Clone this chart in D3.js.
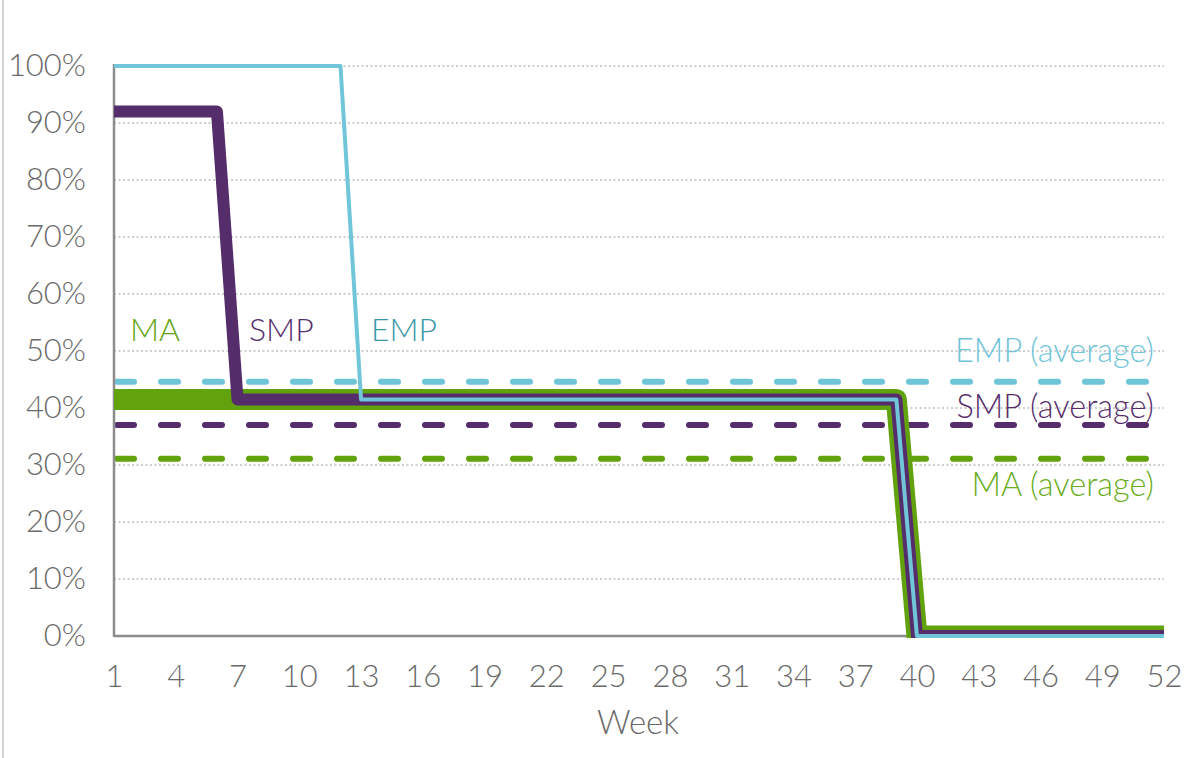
<!DOCTYPE html>
<html>
<head>
<meta charset="utf-8">
<script src="https://cdn.jsdelivr.net/npm/d3@7/dist/d3.min.js"></script>
<style>
  html, body { margin: 0; padding: 0; background: #fff; }
  svg { display: block; }
  text { font-family: Lato, "Noto Sans", sans-serif; font-weight: 300; }
</style>
</head>
<body>
<svg id="chart" width="1184" height="758"></svg>
<script>
// Weekly pay as a share of normal earnings, by leave type (step points: week, percent)
const xTicks = [1, 4, 7, 10, 13, 16, 19, 22, 25, 28, 31, 34, 37, 40, 43, 46, 49, 52];
const yTicks = [0, 10, 20, 30, 40, 50, 60, 70, 80, 90, 100];

const maPoints  = [[1, 41.5], [39, 41.5], [40, 0], [52, 0]];
const smpPoints = [[1, 92], [6, 92], [7, 41.5], [39, 41.5], [40, 0], [52, 0]];
const empPoints = [[1, 100], [12, 100], [13, 41.5], [39, 41.5], [40, 0], [52, 0]];

// Average over the 52 weeks
const averages = [
  { name: "EMP (average)", value: 44.6, color: "#6fc5d8" },
  { name: "SMP (average)", value: 37.0, color: "#552d6b" },
  { name: "MA (average)",  value: 31.1, color: "#62a30d" }
];

const colors = { MA: "#62a30d", SMP: "#552d6b", EMP: "#70c6d8", EMPlabel: "#3a97a8" };

const svg = d3.select("#chart");
const plotLeft = 114, plotRight = 1164, plotTop = 66, plotBottom = 636;

const x = d3.scaleLinear().domain([1, 52]).range([plotLeft, plotRight]);
const y = d3.scaleLinear().domain([0, 100]).range([plotBottom, plotTop]);

// thin frame line on the far left
svg.append("line")
  .attr("x1", 3).attr("x2", 3).attr("y1", 0).attr("y2", 758)
  .attr("stroke", "#d4d4d4").attr("stroke-width", 2);

// dotted gridlines
svg.append("g")
  .selectAll("line")
  .data(yTicks.filter(d => d > 0))
  .join("line")
  .attr("x1", plotLeft).attr("x2", plotRight)
  .attr("y1", d => y(d)).attr("y2", d => y(d))
  .attr("stroke", "#cdcdcd")
  .attr("stroke-width", 2)
  .attr("stroke-dasharray", "2,2.5");

// y axis labels
const yAxis = d3.axisLeft(y).tickValues(yTicks).tickFormat(d => d + "%").tickSize(0).tickPadding(0);
const gy = svg.append("g").attr("transform", `translate(86,0)`).call(yAxis);
gy.select(".domain").remove();
gy.selectAll("text")
  .attr("font-size", 31).attr("fill", "#6a6a6a")
  .style("font-family", "Lato, 'Noto Sans', sans-serif").style("font-weight", 300);

// x axis labels
const xAxis = d3.axisBottom(x).tickValues(xTicks).tickFormat(d3.format("d")).tickSize(0).tickPadding(0);
const gx = svg.append("g").attr("transform", `translate(0,665)`).call(xAxis);
gx.select(".domain").remove();
gx.selectAll("text")
  .attr("font-size", 31).attr("fill", "#6a6a6a")
  .style("font-family", "Lato, 'Noto Sans', sans-serif").style("font-weight", 300);

svg.append("text")
  .attr("x", 638).attr("y", 734)
  .attr("text-anchor", "middle")
  .attr("font-size", 33).attr("fill", "#6a6a6a")
  .text("Week");

// average dashed lines
svg.append("g")
  .selectAll("line")
  .data(averages)
  .join("line")
  .attr("x1", plotLeft + 3).attr("x2", plotRight)
  .attr("y1", d => y(d.value)).attr("y2", d => y(d.value))
  .attr("stroke", d => d.color)
  .attr("stroke-width", 6)
  .attr("stroke-linecap", "round")
  .attr("stroke-dasharray", "17,27");

// axis lines
svg.append("line")
  .attr("x1", plotLeft).attr("x2", plotLeft).attr("y1", plotTop - 2).attr("y2", plotBottom + 1)
  .attr("stroke", "#8c8c8c").attr("stroke-width", 2.5);
svg.append("line")
  .attr("x1", plotLeft).attr("x2", plotRight).attr("y1", plotBottom).attr("y2", plotBottom)
  .attr("stroke", "#8c8c8c").attr("stroke-width", 2.5);

// step lines, clipped just below the zero line
svg.append("clipPath").attr("id", "plot-clip")
  .append("rect").attr("x", plotLeft).attr("y", 0)
  .attr("width", plotRight - plotLeft).attr("height", plotBottom + 2);

const line = d3.line().x(d => x(d[0])).y(d => y(d[1]));
const series = [
  { pts: maPoints,  color: colors.MA,  width: 21 },
  { pts: smpPoints, color: colors.SMP, width: 12 },
  { pts: empPoints, color: colors.EMP, width: 4 }
];
svg.append("g").attr("clip-path", "url(#plot-clip)")
  .selectAll("path")
  .data(series)
  .join("path")
  .attr("d", d => line(d.pts))
  .attr("fill", "none")
  .attr("stroke", d => d.color)
  .attr("stroke-width", d => d.width)
  .attr("stroke-linejoin", "round")
  .attr("stroke-linecap", "butt");

// series labels
const seriesLabels = [
  { text: "MA",  x: 130, color: colors.MA },
  { text: "SMP", x: 249, color: colors.SMP },
  { text: "EMP", x: 371, color: colors.EMPlabel }
];
svg.append("g")
  .selectAll("text")
  .data(seriesLabels)
  .join("text")
  .attr("x", d => d.x).attr("y", 341)
  .attr("font-size", 32)
  .attr("fill", d => d.color)
  .text(d => d.text);

// average labels
const avgLabelY = { "EMP (average)": 362, "SMP (average)": 418, "MA (average)": 496 };
svg.append("g")
  .selectAll("text")
  .data(averages)
  .join("text")
  .attr("x", 1154).attr("y", d => avgLabelY[d.name])
  .attr("text-anchor", "end")
  .attr("font-size", 32.5)
  .attr("fill", d => d.color === "#62a30d" ? "#6aad1c" : d.color)
  .text(d => d.name);
</script>
</body>
</html>
